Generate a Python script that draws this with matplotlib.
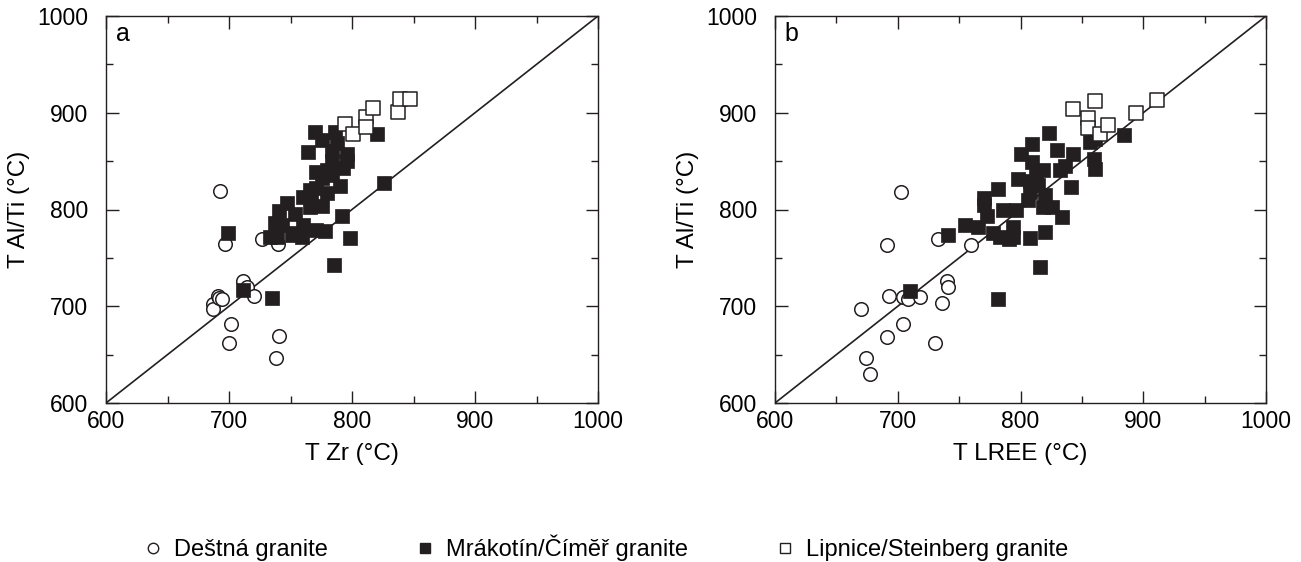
import matplotlib
matplotlib.use("Agg")
import matplotlib.pyplot as plt
from matplotlib.ticker import MultipleLocator
from matplotlib.lines import Line2D

plt.rcParams['font.family'] = ['Liberation Sans', 'DejaVu Sans']

# ---- Panel a: T Zr vs T Al/Ti ----
a_destna_x = [693, 697, 727, 740, 711, 715, 720, 687, 687, 691, 692, 694, 702, 700, 741, 738]
a_destna_y = [819, 764, 769, 764, 726, 720, 711, 702, 697, 711, 709, 707, 682, 662, 669, 647]

a_mrak_x = [770, 786, 776, 788, 764, 784, 796, 796, 784, 820, 793, 771, 780, 776, 784,
            790, 766, 771, 780, 760, 767, 766, 776, 747, 741, 754, 792, 737, 743, 760,
            754, 771, 778, 733, 739, 751, 759, 798, 699, 826, 785, 711, 735]
a_mrak_y = [880, 880, 872, 869, 859, 860, 857, 850, 850, 878, 843, 839, 841, 833, 836,
            824, 820, 822, 817, 813, 810, 803, 804, 807, 798, 795, 793, 786, 784, 784,
            776, 779, 778, 772, 772, 774, 772, 771, 776, 827, 743, 717, 709]

a_lip_x = [794, 801, 811, 811, 817, 837, 839, 847]
a_lip_y = [888, 878, 896, 885, 905, 901, 914, 914]

# ---- Panel b: T LREE vs T Al/Ti ----
b_destna_x = [703, 691, 733, 760, 740, 741, 670, 693, 704, 708, 718, 736, 691, 674, 677, 704, 730]
b_destna_y = [818, 763, 770, 763, 726, 720, 697, 711, 710, 708, 710, 703, 668, 647, 630, 682, 662]

b_mrak_x = [823, 809, 800, 830, 843, 809, 818, 813, 832, 836, 798, 808, 814, 841, 782,
            770, 808, 820, 861, 857, 860, 861, 806, 796, 818, 826, 834, 794, 794, 808,
            820, 816, 770, 773, 755, 765, 786, 778, 783, 791, 741, 710, 782, 884]
b_mrak_y = [879, 868, 857, 861, 857, 849, 841, 838, 841, 845, 832, 829, 825, 823, 821,
            812, 818, 815, 873, 870, 852, 842, 810, 800, 803, 803, 792, 782, 772, 771,
            777, 741, 805, 793, 784, 782, 800, 776, 772, 769, 774, 716, 707, 877]

b_lip_x = [843, 855, 855, 861, 865, 871, 894, 911]
b_lip_y = [904, 895, 884, 912, 878, 887, 900, 913]

panel_letters = ['a', 'b']
x_labels = ['T Zr (°C)', 'T LREE (°C)']
y_label = 'T Al/Ti (°C)'
legend_labels = ['Deštná granite', 'Mrákotín/Čímĕř granite', 'Lipnice/Steinberg granite']
axis_range = [600, 1000]

INK = '#231f20'
MS = 95

fig = plt.figure(figsize=(13.01, 5.62), dpi=100)
ax_a = fig.add_axes([106/1301, (562-403)/562, 492/1301, 387/562])
ax_b = fig.add_axes([775/1301, (562-403)/562, 491/1301, 387/562])

data = [
    (a_destna_x, a_destna_y, a_mrak_x, a_mrak_y, a_lip_x, a_lip_y),
    (b_destna_x, b_destna_y, b_mrak_x, b_mrak_y, b_lip_x, b_lip_y),
]

for ax, d, letter, xl in zip([ax_a, ax_b], data, panel_letters, x_labels):
    dx, dy, mx, my, lx, ly = d
    ax.plot(axis_range, axis_range, color=INK, lw=1.2, zorder=1)
    ax.scatter(dx, dy, s=MS, marker='o', facecolor='white', edgecolor=INK, linewidths=1.1, zorder=2)
    ax.scatter(mx, my, s=MS, marker='s', facecolor=INK, edgecolor=INK, linewidths=0.5, zorder=3)
    ax.scatter(lx, ly, s=MS, marker='s', facecolor='white', edgecolor=INK, linewidths=1.1, zorder=4)
    ax.set_xlim(axis_range)
    ax.set_ylim(axis_range)
    ax.xaxis.set_major_locator(MultipleLocator(100))
    ax.xaxis.set_minor_locator(MultipleLocator(50))
    ax.yaxis.set_major_locator(MultipleLocator(100))
    ax.yaxis.set_minor_locator(MultipleLocator(50))
    ax.tick_params(which='both', direction='in', top=True, right=True, colors=INK,
                   labelsize=16.5, width=1.0, labelcolor='black')
    ax.tick_params(which='major', length=9)
    ax.tick_params(which='minor', length=5)
    ax.tick_params(axis='x', which='major', pad=5)
    ax.tick_params(axis='y', which='major', pad=13)
    for sp in ax.spines.values():
        sp.set_linewidth(1.0)
        sp.set_color(INK)
    ax.set_xlabel(xl, fontsize=17.5, labelpad=7)
    ax.set_ylabel(y_label, fontsize=17.5, labelpad=5)
    ax.text(0.02, 0.985, letter, transform=ax.transAxes, fontsize=18, va='top', ha='left')

handles = [
    Line2D([], [], ls='none', marker='o', markersize=7.5, markerfacecolor='white', markeredgecolor=INK, markeredgewidth=1.0),
    Line2D([], [], ls='none', marker='s', markersize=7.5, markerfacecolor=INK, markeredgecolor=INK),
    Line2D([], [], ls='none', marker='s', markersize=7.5, markerfacecolor='white', markeredgecolor=INK, markeredgewidth=1.0),
]
fig.legend(handles, legend_labels, loc='center left', bbox_to_anchor=(141/1301, 0.025), ncol=3,
           frameon=False, fontsize=17, handletextpad=0.4, columnspacing=3.6, handlelength=1.0,
           borderpad=0, borderaxespad=0)

fig.savefig('out.png', dpi=100)
